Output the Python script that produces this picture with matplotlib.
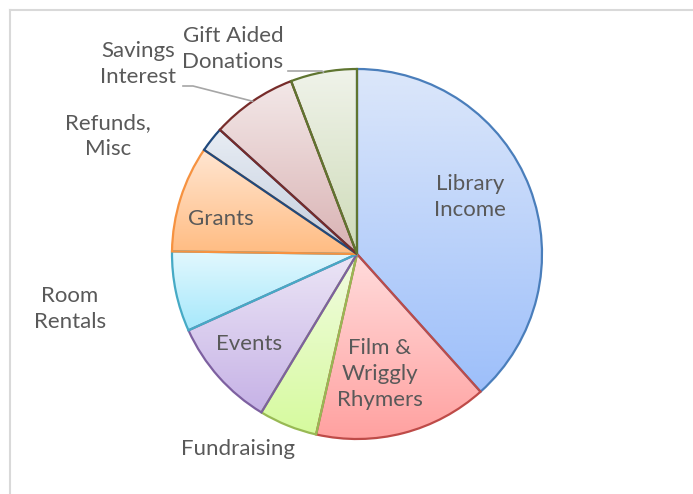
#Plot: income breakdown pie (Excel style, gradient slices)
import numpy as np
import matplotlib
matplotlib.use("Agg")
import matplotlib.pyplot as plt
from matplotlib.colors import LinearSegmentedColormap

labels = ["Library\nIncome", "Film &\nWriggly\nRhymers", "Fundraising", "Events",
          "Room\nRentals", "Grants", "Refunds,\nMisc", "Savings\nInterest",
          "Gift Aided\nDonations"]
values = [38.4, 15.2, 5.1, 9.6, 7.0, 9.3, 2.2, 7.5, 5.8]

edge_colors = ["#4A7EBB", "#BE4B48", "#98B954", "#7D60A0", "#46AAC5",
               "#F69240", "#1F497D", "#772C2A", "#5F7530"]
top_colors = ["#DCE7FA", "#FFDCDC", "#F2FCE2", "#ECE6F6", "#E2F8FE",
              "#FFE6D2", "#E8EDF4", "#F3E8E8", "#F0F3EA"]
bot_colors = ["#9DBFFA", "#FFA1A0", "#D6FA9E", "#C6B2E6", "#A6E8FB",
              "#FFBC82", "#C3CDDD", "#D9B2B3", "#CEDBB8"]

# label positions in pixels (x, y from top)
label_pos = [(470, 197), (380, 374), (238, 449), (249, 344), (70, 309),
             (221, 219), (108, 136), (138, 64), (233, 49)]

W, H = 693, 494
plt.rcParams.update({'font.family': ['Lato', 'DejaVu Sans']})
fig = plt.figure(figsize=(W / 100, H / 100), dpi=100)
ax = fig.add_axes([0, 0, 1, 1])
ax.set_xlim(0, W)
ax.set_ylim(0, H)
ax.axis("off")

cx, cy, r = 357, H - 254, 185
wedges, _ = ax.pie(values, startangle=90, counterclock=False,
                   center=(cx, cy), radius=r, frame=True,
                   wedgeprops=dict(linewidth=1.6))

grad = np.linspace(0, 1, 256).reshape(-1, 1)
for i, w in enumerate(wedges):
    w.set_facecolor("none")
    w.set_edgecolor(edge_colors[i])
    w.set_zorder(3)
    bb = w.get_path().get_extents()
    cmap = LinearSegmentedColormap.from_list("g%d" % i, [top_colors[i], bot_colors[i]])
    im = ax.imshow(grad, extent=[bb.x0, bb.x1, bb.y0, bb.y1], origin="upper",
                   cmap=cmap, aspect="auto", zorder=2, interpolation="bilinear")
    im.set_clip_path(w)

for i, lab in enumerate(labels):
    x, y = label_pos[i]
    ax.text(x, H - y, lab, ha="center", va="center", fontsize=16,
            color="#595959", linespacing=1.4, zorder=5)

# leader lines for the two small outside labels
leaders = {7: (183, 193), 8: (288, 322)}
leader_y = {7: 86, 8: 71}
for i, (xa, xb) in leaders.items():
    w = wedges[i]
    mid = np.deg2rad((w.theta1 + w.theta2) / 2)
    ex, ey = cx + r * np.cos(mid), cy + r * np.sin(mid)
    ax.plot([xa, xb, ex], [H - leader_y[i], H - leader_y[i], ey],
            color="#A6A6A6", lw=1.2, zorder=4)

ax.set_xlim(0, W)
ax.set_ylim(0, H)
ax.set_aspect("equal")

# chart area border (only top and left show in the crop)
ax.plot([10, W + 5], [H - 10, H - 10], color="#D9D9D9", lw=1.5, zorder=1)
ax.plot([10, 10], [H - 10, -5], color="#D9D9D9", lw=1.5, zorder=1)

fig.savefig("out.png", dpi=100)
